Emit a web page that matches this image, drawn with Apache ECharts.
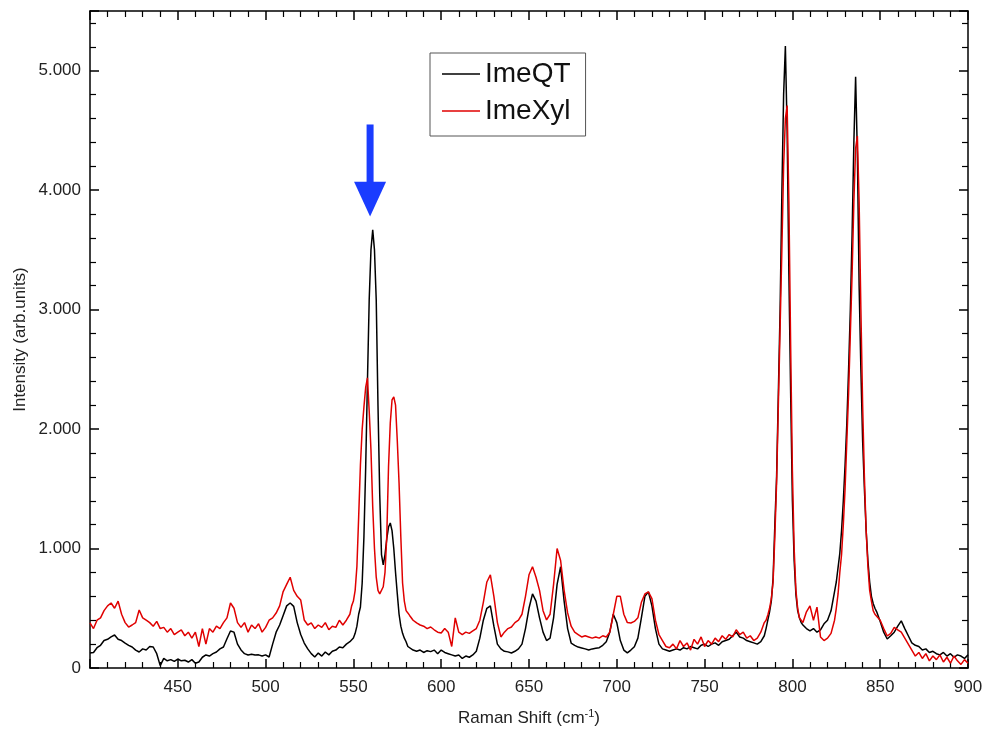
<!DOCTYPE html>
<html><head><meta charset="utf-8">
<script src="https://cdn.jsdelivr.net/npm/echarts/dist/echarts.min.js"></script>
<style>html,body{margin:0;padding:0;background:#fff}#c{width:987px;height:731px}</style>
</head><body><div id="c"></div>
<script>
// Raman shift (cm-1)
const ramanShift = [
400,402,404,406,408,410,412,414,416,418,420,422,424,426,428,430,432,434,436,438,
440,442,444,446,448,450,452,454,456,458,460,462,464,466,468,470,472,474,476,478,
480,482,484,486,488,490,492,494,496,498,500,502,504,506,508,510,512,514,516,518,
520,522,524,526,528,530,532,534,536,538,540,542,544,546,548,
549,550,551,552,553,554,555,556,557,558,559,560,561,562,563,564,565,566,567,568,
569,570,571,572,573,574,575,576,577,578,579,580,581,
582,584,586,588,590,592,594,596,598,600,602,604,606,608,610,612,614,616,618,620,
622,624,626,628,630,632,634,636,638,640,642,644,646,648,650,652,654,656,658,660,
662,664,666,668,670,672,674,676,678,680,682,684,686,688,690,692,694,696,698,700,
702,704,706,708,710,712,714,716,718,720,722,724,726,728,730,732,734,736,738,740,
742,744,746,748,750,752,754,756,758,760,762,764,766,768,770,772,774,776,778,780,
782,784,
785,786,787,788,789,790,791,792,793,794,795,796,797,798,799,800,801,802,803,804,805,
806,808,810,812,814,816,818,820,822,824,
825,826,827,828,829,830,831,832,833,834,835,836,837,838,839,840,841,842,843,844,845,846,847,
848,850,852,854,856,858,860,862,864,866,868,870,872,874,876,878,880,882,884,886,888,890,892,894,896,898,900
];
// ImeQT intensity (arb. units)
const imeQT = [
125,130,170,190,230,240,260,276,240,230,209,190,176,150,134,160,151,180,176,120,
20,80,60,70,55,75,60,65,50,70,40,50,90,109,100,120,134,160,176,245,
310,300,200,151,120,109,115,109,110,100,110,92,200,300,360,440,520,544,516,380,
280,209,160,120,92,125,100,134,110,140,150,176,170,200,220,
230,251,290,350,450,511,712,1100,1683,2400,3082,3500,3668,3500,3082,2200,1450,950,863,950,
1080,1180,1214,1150,1000,800,620,450,350,290,250,220,180,
170,150,140,150,130,145,137,150,120,150,130,120,110,100,109,80,100,90,109,140,
250,400,500,520,350,200,160,140,135,126,140,160,200,330,500,620,560,420,300,230,
250,420,700,848,560,330,209,190,175,168,160,150,160,165,170,190,220,300,450,380,
230,150,126,150,178,250,420,600,637,520,330,200,160,150,140,150,160,150,170,160,
180,170,160,190,200,180,200,210,190,220,230,240,270,300,260,250,230,220,210,200,
220,270,
330,400,470,560,750,1200,1600,2300,3000,3973,4800,5206,4500,3300,2300,1400,900,616,480,420,380,
360,330,310,330,300,320,370,400,479,640,
720,840,960,1150,1400,1700,2050,2500,3000,3631,4400,4950,4300,3200,2500,1900,1500,1150,900,720,600,540,500,
470,390,300,243,270,300,350,394,330,270,210,190,180,150,160,130,140,120,110,130,100,120,90,110,100,80,110
];
// ImeXyl intensity (arb. units)
const imeXyl = [
377,330,400,420,480,520,544,500,560,450,380,343,360,380,486,420,400,380,350,390,
330,340,300,330,280,300,320,270,300,250,300,180,330,200,330,300,350,330,380,420,
544,500,380,340,380,300,360,330,370,300,340,400,420,460,520,640,700,760,650,600,
569,402,360,377,330,360,340,380,320,350,340,400,360,400,450,
520,560,650,850,1265,1700,2000,2186,2350,2429,2150,1826,1350,1000,760,650,620,611,680,800,
1100,1683,2050,2244,2270,2200,1900,1549,1100,712,560,480,461,
440,400,377,360,350,330,343,320,300,293,330,300,180,420,300,280,300,290,310,330,
400,550,720,779,600,380,260,300,330,343,380,400,450,600,780,848,760,650,480,402,
450,700,1000,900,650,461,350,300,280,260,270,260,250,260,250,270,260,300,450,600,
600,450,380,377,390,420,550,620,637,580,400,280,230,180,170,200,160,230,180,210,
150,240,200,260,180,230,200,250,220,270,240,280,260,320,280,300,250,270,230,250,
300,380,
400,444,500,580,720,1100,1550,2200,2850,3500,4200,4600,4709,3900,2700,1650,1000,650,500,420,400,
380,470,520,400,510,260,230,250,290,400,
500,620,800,950,1200,1500,1900,2300,2800,3300,3900,4350,4453,3900,3000,2200,1600,1150,850,650,560,480,450,
444,400,330,268,290,340,320,300,250,200,150,100,130,80,120,60,100,70,110,50,90,40,100,60,30,70,40
];
const seriesNames = ['ImeQT', 'ImeXyl'];
const seriesColors = ['#000000', '#e00000'];
// arrow annotation, in data units
const arrowShift = 559.5;
const arrowTopValue = 4550;
const arrowHeadValue = 4070;
const arrowTipValue = 3780;

const FONT = '"Liberation Sans", Arial, Helvetica, sans-serif';
const chart = echarts.init(document.getElementById('c'));

function xAxisCfg(pos, showLabel) {
  return {
    type: 'value', position: pos, min: 400, max: 900, interval: 50,
    axisLine: { show: true, onZero: false, lineStyle: { color: '#000', width: 1.5 } },
    axisTick: { show: true, inside: true, length: 9, lineStyle: { color: '#000', width: 1.5 } },
    minorTick: { show: true, splitNumber: 5, length: 6, lineStyle: { color: '#000', width: 1.2 } },
    splitLine: { show: false },
    axisLabel: { show: showLabel, fontSize: 17, color: '#222', fontFamily: FONT, margin: 11,
      formatter: v => (v === 400 ? '' : String(v)) },
    name: showLabel ? 'Raman Shift (cm{sup|-1})' : '',
    nameLocation: 'middle', nameGap: 40, nameMoveOverlap: false,
    nameTextStyle: { fontSize: 17, color: '#222', fontFamily: FONT,
      rich: { sup: { fontSize: 11, color: '#222', fontFamily: FONT, verticalAlign: 'top', padding: [0, 0, 10, 0] } } }
  };
}
function yAxisCfg(pos, showLabel) {
  return {
    type: 'value', position: pos, min: 0, max: 5500, interval: 1000,
    axisLine: { show: true, onZero: false, lineStyle: { color: '#000', width: 1.5 } },
    axisTick: { show: true, inside: true, length: 9, lineStyle: { color: '#000', width: 1.5 } },
    minorTick: { show: true, splitNumber: 5, length: 6, lineStyle: { color: '#000', width: 1.2 } },
    splitLine: { show: false },
    axisLabel: { show: showLabel, fontSize: 17, color: '#222', fontFamily: FONT, margin: 9,
      showMaxLabel: false,
      formatter: v => (v === 0 ? '0' : (v % 1000 === 0 ? (v / 1000) + '.000' : '')) },
    name: showLabel ? 'Intensity (arb.units)' : '',
    nameLocation: 'middle', nameGap: 61, nameRotate: 90, nameMoveOverlap: false,
    nameTextStyle: { fontSize: 17, color: '#222', fontFamily: FONT }
  };
}

const series = [imeQT, imeXyl].map((vals, k) => ({
  name: seriesNames[k], type: 'line', symbol: 'none', showSymbol: false,
  xAxisIndex: 0, yAxisIndex: 0,
  data: ramanShift.map((x, i) => [x, vals[i]]),
  lineStyle: { color: seriesColors[k], width: 1.5 },
  itemStyle: { color: seriesColors[k] },
  animation: false
}));

chart.setOption({
  animation: false,
  backgroundColor: '#fff',
  grid: { left: 90, right: 19, top: 11, bottom: 63, containLabel: false, outerBoundsMode: 'none' },
  xAxis: [xAxisCfg('bottom', true), xAxisCfg('top', false)],
  yAxis: [yAxisCfg('left', true), yAxisCfg('right', false)],
  legend: {
    data: seriesNames, orient: 'vertical', left: 430, top: 53,
    icon: 'rect', padding: [7, 15, 11, 12], itemGap: 9, itemWidth: 38, itemHeight: 1.5,
    borderColor: '#555', borderWidth: 1, backgroundColor: '#fff',
    textStyle: { fontSize: 28, color: '#111', fontFamily: FONT, lineHeight: 28 }
  },
  series: series
});

const pTop = chart.convertToPixel({ xAxisIndex: 0, yAxisIndex: 0 }, [arrowShift, arrowTopValue]);
const pHead = chart.convertToPixel({ xAxisIndex: 0, yAxisIndex: 0 }, [arrowShift, arrowHeadValue]);
const pTip = chart.convertToPixel({ xAxisIndex: 0, yAxisIndex: 0 }, [arrowShift, arrowTipValue]);
const blue = '#1a3cff';
chart.setOption({
  graphic: [
    { type: 'rect', shape: { x: pTop[0] - 3.5, y: pTop[1], width: 7, height: pHead[1] - pTop[1] + 1 },
      style: { fill: blue }, z: 100 },
    { type: 'polygon', shape: { points: [[pHead[0] - 16, pHead[1]], [pHead[0] + 16, pHead[1]], [pTip[0], pTip[1]]] },
      style: { fill: blue }, z: 100 }
  ]
});
</script></body></html>
